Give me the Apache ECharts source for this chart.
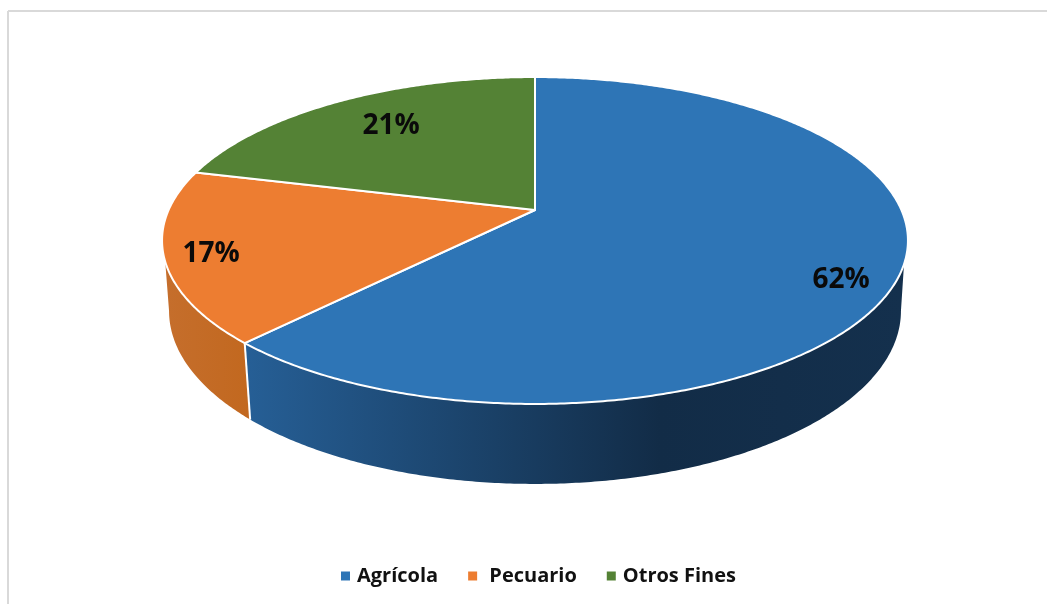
<!DOCTYPE html>
<html><head><meta charset="utf-8">
<style>html,body{margin:0;padding:0;background:#fff}#c{width:1047px;height:604px}</style>
<script src="https://cdn.jsdelivr.net/npm/echarts@6/dist/echarts.min.js"></script>
</head><body><div id="c"></div>
<script>
const categories = ['Agrícola', 'Pecuario', 'Otros Fines'];
const values = [62, 17, 21];
const colors = ['#2e75b6', '#ed7d31', '#548235'];
const sideStops = [
  [[0, '#265f96'], [0.63, '#122c47'], [1, '#14304d']],
  [[0, '#c56e2c'], [1, '#c2681f']],
  null
];
const labelAt = [[841, 280], [211, 254], [391, 126]];
const total = values.reduce((a, b) => a + b, 0);

const CX = 535, AY = 210, K = 0.1865, B = -118.6, C = 366.4;
const TOPC = 240.5, TOPRY = 163.5, TOPRX = 373, BOTC = 311, BOTRY = 173, BOTRX = 366;
const rad = d => d * Math.PI / 180;
function topPt(th) {
  const u = Math.sin(rad(th)), v = Math.cos(rad(th)), w = 1 + K * v;
  return [CX + C * u / w, (AY + B * v) / w];
}
function botPt(th) {
  const p = topPt(th);
  return [CX + (p[0] - CX) * BOTRX / TOPRX, BOTC + (p[1] - TOPC) * BOTRY / TOPRY];
}
function arc(fn, a, b) {
  const n = Math.max(2, Math.ceil(Math.abs(b - a) * 2)), r = [];
  for (let i = 0; i <= n; i++) r.push(fn(a + (b - a) * i / n));
  return r;
}
const TOP_MIN = 108.8, TOP_MAX = 252, BOT_MIN = 100.75, BOT_MAX = 259.25;

function renderItem(idx) {
  return function (params, api) {
    const start = values.slice(0, idx).reduce((a, b) => a + b, 0) / total * 360;
    const end = start + api.value(0) / total * 360;
    const children = [];
    const ta = Math.max(start, TOP_MIN), tb = Math.min(end, TOP_MAX);
    const ba = Math.max(start, BOT_MIN), bb = Math.min(end, BOT_MAX);
    if (sideStops[idx] && ba < bb) {
      const pts = arc(topPt, ta, tb).concat(arc(botPt, bb, ba));
      children.push({
        type: 'polygon', z2: 1,
        shape: { points: pts },
        style: {
          fill: new echarts.graphic.LinearGradient(0, 0, 1, 0,
            sideStops[idx].map(s => ({ offset: s[0], color: s[1] }))),
          stroke: null
        }
      });
      if (start > BOT_MIN && start < BOT_MAX) {
        const a = topPt(start), b = botPt(start);
        children.push({
          type: 'line', z2: 2,
          shape: { x1: a[0], y1: a[1], x2: b[0], y2: b[1] },
          style: { stroke: '#fff', lineWidth: 2 }
        });
      }
    }
    children.push({
      type: 'polygon', z2: 3 + idx,
      shape: { points: [[CX, AY]].concat(arc(topPt, start, end)) },
      style: { fill: colors[idx], stroke: '#fff', lineWidth: 2, lineJoin: 'round' }
    });
    children.push({
      type: 'text', z2: 10,
      style: {
        x: labelAt[idx][0], y: labelAt[idx][1],
        text: api.value(0) + '%',
        fill: '#0a0a0a', font: 'bold 28px "Open Sans"',
        align: 'center', verticalAlign: 'middle'
      }
    });
    return { type: 'group', children };
  };
}

const chart = echarts.init(document.getElementById('c'), null, { renderer: 'canvas' });
chart.setOption({
  animation: false,
  backgroundColor: '#fff',
  color: colors,
  legend: {
    data: categories,
    left: 336, top: 561,
    icon: 'rect', itemWidth: 9, itemHeight: 9, itemGap: 30,
    formatter: n => n === 'Pecuario' ? ' ' + n : n,
    textStyle: { fontFamily: 'Open Sans', fontWeight: 'bold', fontSize: 20, color: '#111', padding: [0, 0, 0, 2] }
  },
  graphic: [
    { type: 'line', shape: { x1: 8, y1: 11, x2: 1047, y2: 11 }, style: { stroke: '#d9d9d9', lineWidth: 2 }, silent: true },
    { type: 'line', shape: { x1: 8, y1: 11, x2: 8, y2: 604 }, style: { stroke: '#d9d9d9', lineWidth: 2 }, silent: true }
  ],
  series: categories.map((name, i) => ({
    type: 'custom', name, coordinateSystem: 'none',
    itemStyle: { color: colors[i] },
    data: [[values[i]]],
    renderItem: renderItem(i)
  }))
});
</script></body></html>
